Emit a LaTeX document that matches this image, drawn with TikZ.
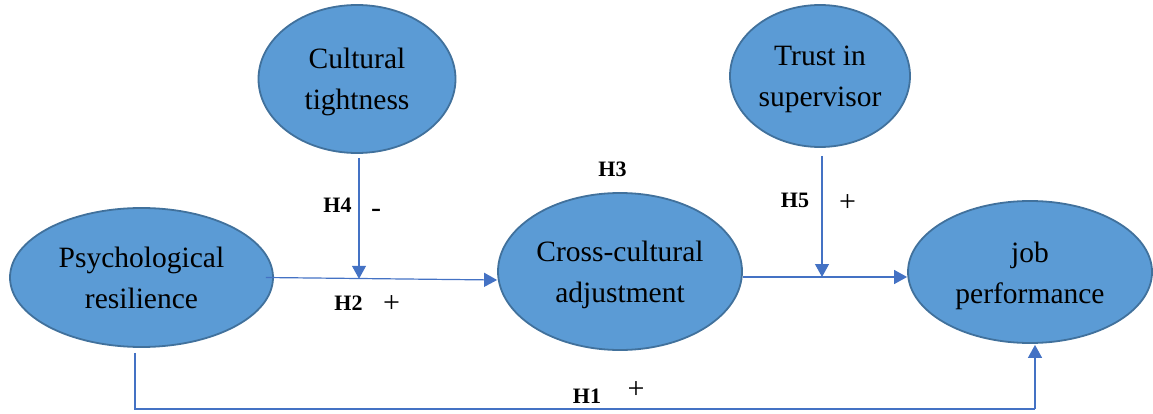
\documentclass[tikz,border=0pt]{standalone}
\usepackage{fontspec}
\setmainfont{Liberation Serif}
\usetikzlibrary{shapes.geometric,arrows.meta}
\definecolor{ellfill}{HTML}{5B9BD5}
\definecolor{elldraw}{HTML}{41719C}
\definecolor{linec}{HTML}{4472C4}
\newcommand{\twolines}[2]{\rule{0pt}{28pt}#1\\#2\rule[-7pt]{0pt}{7pt}}
\tikzset{
  var/.style={ellipse, draw=elldraw, fill=ellfill, line width=1.8pt, inner sep=0pt, align=center, font=\fontsize{29.5}{41}\selectfont},
  conn/.style={draw=linec, line width=1.2pt},
  arr/.style={conn, -{Triangle[length=13pt,width=14pt]}},
  hyp/.style={inner sep=0pt, font=\fontsize{22}{24}\selectfont\bfseries},
  sgn/.style={inner sep=0pt, font=\fontsize{30}{30}\selectfont}
}
\begin{document}
\begin{tikzpicture}[x=1pt,y=-1pt]
\useasboundingbox (0,0) rectangle (1153,414);
\node[var, minimum width=197pt, minimum height=148pt] (ct) at (357,79) {\twolines{Cultural}{tightness}};
\node[var, minimum width=180pt, minimum height=142pt] (ts) at (820,76) {\twolines{Trust in}{supervisor}};
\node[var, minimum width=263pt, minimum height=139pt] (pr) at (141.5,277.5) {\twolines{Psychological}{resilience}};
\node[var, minimum width=244pt, minimum height=157pt] (ca) at (620,271.5) {\twolines{Cross-cultural}{adjustment}};
\node[var, minimum width=244pt, minimum height=142pt] (jp) at (1030,272) {\twolines{job}{performance}};
\coordinate (m1) at (359,278.8);
\coordinate (m2) at (822,277);
\coordinate (bl) at (135,409);
\coordinate (br) at (1035,409);
% H2 path
\draw[arr] ([xshift=-8pt]pr.east) -- ([yshift=-8.5pt]ca.west);
% H4 moderation
\draw[arr] ([xshift=2pt,yshift=-4pt]ct.south) -- (m1);
% H3 path
\draw[arr] ([yshift=-5.5pt]ca.east) -- ([yshift=-5pt]jp.west);
% H5 moderation
\draw[arr] ([xshift=2pt,yshift=-8pt]ts.south) -- (m2);
% H1 path
\draw[conn] ([xshift=-6.5pt,yshift=-5pt]pr.south) -- (bl) -- (br);
\draw[arr] (br) -- ([xshift=5pt,yshift=-1pt]jp.south);
% labels
\node[hyp] (h4) at (337.5,205) {H4};
\node[sgn] (s4) at (376,213) {-};
\node[hyp] (h2) at (348.5,303.5) {H2};
\node[sgn] (s2) at (391.5,304.5) {+};
\node[hyp] (h3) at (612.5,169) {H3};
\node[hyp] (h5) at (795,200) {H5};
\node[sgn] (s5) at (847.5,203.5) {+};
\node[hyp] (h1) at (587,396) {H1};
\node[sgn] (s1) at (636,390.5) {+};
\end{tikzpicture}
\end{document}
